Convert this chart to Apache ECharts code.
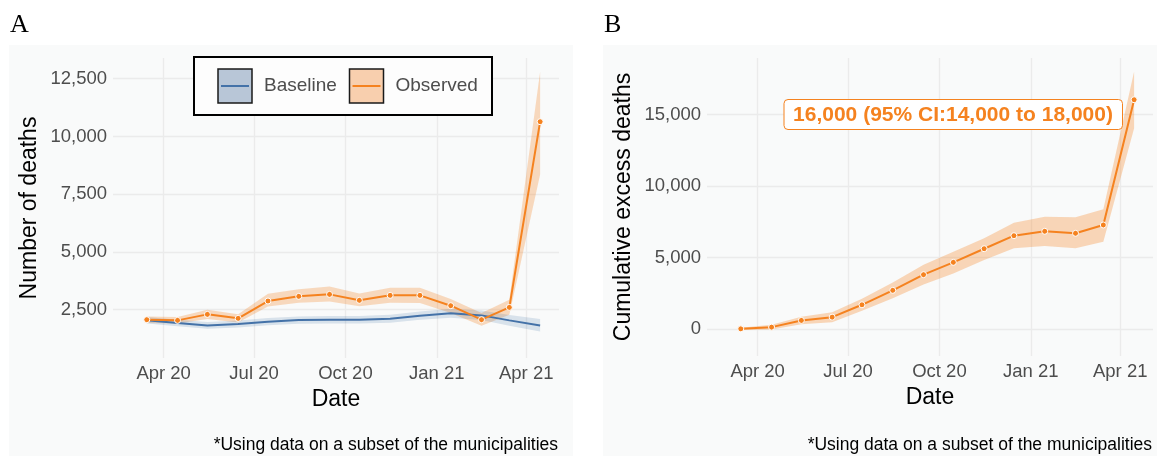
<!DOCTYPE html>
<html>
<head>
<meta charset="utf-8">
<script src="https://cdn.jsdelivr.net/npm/echarts@6/dist/echarts.min.js"></script>
<style>
  html, body { margin: 0; padding: 0; background: #fff; }
  #chart { width: 1157px; height: 456px; }
</style>
</head>
<body>
<div id="chart"></div>
<script>
// monthly points (mid-month)
var dates = ['2020-03-15', '2020-04-15', '2020-05-15', '2020-06-15', '2020-07-15', '2020-08-15', '2020-09-15',
  '2020-10-15', '2020-11-15', '2020-12-15', '2021-01-15', '2021-02-15', '2021-03-15', '2021-04-15']

// panel A
var observed = [2067, 2038, 2298, 2125, 2876, 3078, 3164, 2905, 3121, 3121, 2673, 2067, 2600, 10638]
var observedLow = [1925, 1900, 2100, 1950, 2640, 2800, 2860, 2650, 2800, 2790, 2360, 1810, 2280, 8350]
var observedHigh = [2210, 2180, 2500, 2300, 3190, 3380, 3500, 3200, 3450, 3450, 2960, 2360, 2930, 12800]
var baseline = [2038, 1923, 1820, 1877, 1980, 2052, 2067, 2067, 2110, 2240, 2342, 2254, 2038, 1820]
var baselineLow = [1900, 1780, 1680, 1730, 1830, 1890, 1900, 1900, 1940, 2060, 2150, 2050, 1810, 1560]
var baselineHigh = [2180, 2070, 1970, 2030, 2140, 2210, 2230, 2230, 2280, 2420, 2540, 2460, 2270, 2100]

// panel B
var cumulative = [0, 120, 590, 820, 1685, 2697, 3792, 4656, 5610, 6522, 6830, 6690, 7272, 16038]
var cumulativeLow = [-80, -50, 330, 470, 1260, 2150, 3100, 3880, 4820, 5640, 5800, 5640, 6100, 14050]
var cumulativeHigh = [80, 290, 850, 1170, 2110, 3250, 4480, 5400, 6340, 7430, 7850, 7810, 8370, 18020]

var dateTicks = ['2020-04-01', '2020-07-01', '2020-10-01', '2021-01-01', '2021-04-01']
var deathTicks = [2500, 5000, 7500, 10000, 12500]
var cumTicks = [0, 5000, 10000, 15000]

var ORANGE = '#f5821f'
var BLUE = '#4472a8'
var FONT = 'Liberation Sans'
var MONTHS = ['Jan', 'Feb', 'Mar', 'Apr', 'May', 'Jun', 'Jul', 'Aug', 'Sep', 'Oct', 'Nov', 'Dec']

function t (s) { return Date.parse(s) }

function pairs (vals) {
  return vals.map(function (v, i) { return [t(dates[i]), v] })
}

function xAxis (idx) {
  return {
    type: 'value',
    gridIndex: idx,
    min: t('2020-02-10'),
    max: t('2021-05-04'),
    name: 'Date',
    nameLocation: 'middle',
    nameGap: 26,
    nameTextStyle: { fontSize: 23, color: '#000', fontFamily: FONT },
    axisLine: { show: false },
    axisTick: { show: false, customValues: dateTicks.map(t) },
    axisLabel: {
      customValues: dateTicks.map(t),
      margin: 6,
      fontSize: 18.5,
      color: '#4d4d4d',
      fontFamily: FONT,
      formatter: function (v) {
        var d = new Date(v)
        return MONTHS[d.getUTCMonth()] + ' ' + String(d.getUTCFullYear()).slice(2)
      }
    },
    splitLine: { show: true, lineStyle: { color: '#ebebeb', width: 1.3 } }
  }
}

function yAxis (idx, name, min, max, ticks) {
  return {
    type: 'value',
    gridIndex: idx,
    min: min,
    max: max,
    name: name,
    nameLocation: 'middle',
    nameGap: 72,
    nameTextStyle: { fontSize: 23, color: '#000', fontFamily: FONT },
    axisLine: { show: false },
    axisTick: { show: false, customValues: ticks },
    axisLabel: {
      customValues: ticks,
      margin: 6,
      fontSize: 18.5,
      color: '#4d4d4d',
      fontFamily: FONT,
      formatter: function (v) { return v.toLocaleString('en-US') }
    },
    splitLine: { show: true, lineStyle: { color: '#ebebeb', width: 1.3 } }
  }
}

// confidence ribbon drawn as one polygon through the axis scales
function band (idx, lo, hi, color) {
  return {
    type: 'custom',
    xAxisIndex: idx,
    yAxisIndex: idx,
    silent: true,
    z: 1,
    data: dates.map(function (d, i) { return [t(d), lo[i], hi[i]] }),
    encode: { x: 0, y: [1, 2] },
    renderItem: function (params, api) {
      if (params.dataIndex !== 0) return
      var pts = []
      for (var i = 0; i < dates.length; i++) pts.push(api.coord([t(dates[i]), hi[i]]))
      for (var j = dates.length - 1; j >= 0; j--) pts.push(api.coord([t(dates[j]), lo[j]]))
      return { type: 'polygon', shape: { points: pts }, style: { fill: color } }
    }
  }
}

function mainLine (idx, vals, color, points, z) {
  return {
    type: 'line',
    xAxisIndex: idx,
    yAxisIndex: idx,
    data: pairs(vals),
    z: z,
    lineStyle: { color: color, width: 2 },
    itemStyle: { color: color, borderColor: '#fff', borderWidth: 1 },
    symbol: 'circle',
    symbolSize: 6,
    showSymbol: points
  }
}

function caption (right) {
  return {
    type: 'text',
    style: {
      text: '*Using data on a subset of the municipalities',
      x: right, y: 445, textAlign: 'right', textVerticalAlign: 'middle',
      font: '17.5px ' + FONT, fill: '#000'
    }
  }
}

function legendKey (x, fill, stroke, label) {
  return [
    { type: 'rect', shape: { x: x, y: 69, width: 34, height: 34 }, style: { fill: fill, stroke: '#1a1a1a', lineWidth: 1.5 }, z: 101 },
    { type: 'line', shape: { x1: x + 3, y1: 86, x2: x + 31, y2: 86 }, style: { stroke: stroke, lineWidth: 2 }, z: 102 },
    { type: 'text', style: { text: label, x: x + 46, y: 86, textVerticalAlign: 'middle', font: '19px ' + FONT, fill: '#4d4d4d' }, z: 102 }
  ]
}

var option = {
  animation: false,
  grid: [
    { left: 113, right: 598, top: 58, bottom: 98 },
    { left: 707, right: 4, top: 58, bottom: 100 }
  ],
  xAxis: [xAxis(0), xAxis(1)],
  yAxis: [
    yAxis(0, 'Number of deaths', 409, 13396, deathTicks),
    yAxis(1, 'Cumulative excess deaths', -1900, 18960, cumTicks)
  ],
  graphic: [
    { type: 'rect', shape: { x: 9, y: 45, width: 564, height: 411 }, style: { fill: '#f9fafa' }, z: -100 },
    { type: 'rect', shape: { x: 603, y: 45, width: 554, height: 411 }, style: { fill: '#f9fafa' }, z: -100 },
    { type: 'text', style: { text: 'A', x: 10, y: 25, textVerticalAlign: 'middle', font: '26px "Liberation Serif"', fill: '#000' } },
    { type: 'text', style: { text: 'B', x: 604, y: 25, textVerticalAlign: 'middle', font: '26px "Liberation Serif"', fill: '#000' } },
    caption(558),
    caption(1152),
    { type: 'rect', shape: { x: 194, y: 57, width: 298, height: 58 }, style: { fill: '#fdfdfd', stroke: '#000', lineWidth: 2 }, z: 100 }
  ].concat(legendKey(218, '#b8c6d7', BLUE, 'Baseline'))
    .concat(legendKey(349.5, '#f8cfae', ORANGE, 'Observed'))
    .concat([
      { type: 'rect', shape: { x: 784, y: 99.5, width: 338.5, height: 30, r: 4 }, style: { fill: '#fff', stroke: ORANGE, lineWidth: 1 }, z: 100 },
      { type: 'text', style: { text: '16,000 (95% CI:14,000 to 18,000)', x: 953, y: 115, textAlign: 'center', textVerticalAlign: 'middle', font: 'bold 21px ' + FONT, fill: ORANGE }, z: 101 }
    ]),
  series: [
    band(0, observedLow, observedHigh, 'rgba(245,130,31,0.28)'),
    band(0, baselineLow, baselineHigh, 'rgba(68,114,168,0.18)'),
    mainLine(0, baseline, BLUE, false, 3),
    mainLine(0, observed, ORANGE, true, 4),
    band(1, cumulativeLow, cumulativeHigh, 'rgba(245,130,31,0.3)'),
    mainLine(1, cumulative, ORANGE, true, 4)
  ]
}

var myChart = echarts.init(document.getElementById('chart'))
myChart.setOption(option)
</script>
</body>
</html>
